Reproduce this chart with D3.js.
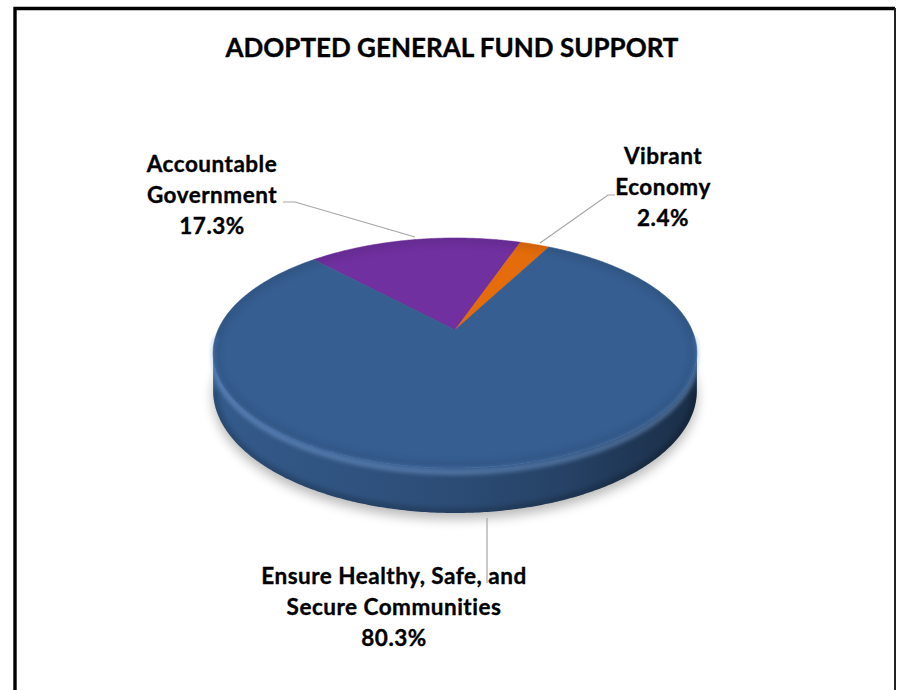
<!DOCTYPE html>
<html>
<head>
<meta charset="utf-8">
<script src="https://cdn.jsdelivr.net/npm/d3@7"></script>
<style>
  html, body { margin: 0; padding: 0; background: #fff; }
  svg { display: block; }
  text { font-family: Lato, "Open Sans", sans-serif; font-weight: bold; fill: #000; stroke: #000; stroke-width: 0.35px; }
</style>
</head>
<body>
<svg id="chart" width="897" height="690"></svg>
<script>
// ---- data ----
const title = "ADOPTED GENERAL FUND SUPPORT";
const categories = ["Accountable Government", "Vibrant Economy", "Ensure Healthy, Safe, and Secure Communities"];
const shares = [17.3, 2.4, 80.3];
const labelNames = [["Accountable", "Government"], ["Vibrant", "Economy"], ["Ensure Healthy, Safe, and", "Secure Communities"]];
const sliceColors = ["#7030A0", "#E46C0A", "#365E91"];

// ---- layout ----
const W = 897, H = 690;
const svg = d3.select("#chart");
const defs = svg.append("defs");

// perspective disc: centre apex, half-width, vertical mapping
const cx = 455, k = 237, persp = -0.2, tiltA = 44.4, apexY = 330, depth = 36;
function proj(theta, r, z) {
  const u = r * Math.sin(theta), v = -r * Math.cos(theta);
  const w = 1 + persp * v;
  return [cx + k * u / w, (tiltA * v + apexY + z * depth) / w];
}
function arcPts(t0, t1, z) {
  const n = Math.max(2, Math.ceil(Math.abs(t1 - t0) / 0.01));
  return d3.range(n + 1).map(i => proj(t0 + (t1 - t0) * i / n, 1, z));
}
const line = d3.line();

const startDeg = -43.1;
const pie = d3.pie().sort(null).value(d => d)
  .startAngle(startDeg * Math.PI / 180)
  .endAngle(startDeg * Math.PI / 180 + 2 * Math.PI);
const arcs = pie(shares);

// silhouette angles of the drum (leftmost / rightmost points)
const thR = Math.acos(persp), thL = 2 * Math.PI - Math.acos(persp);

// ---- frame ----
svg.append("rect").attr("width", W).attr("height", H).attr("fill", "#fff");
svg.append("path")
  .attr("d", "M15,690 L15,8.5 L895,8.5")
  .attr("fill", "none").attr("stroke", "#000").attr("stroke-width", 3.4);
svg.append("path").attr("d", "M895,8 L895,690").attr("stroke", "#222").attr("stroke-width", 2);

// ---- filters ----
const fShadow = defs.append("filter").attr("id", "shadowBlur").attr("x", "-20%").attr("y", "-20%").attr("width", "140%").attr("height", "140%");
fShadow.append("feGaussianBlur").attr("stdDeviation", 6);
const fSoft = defs.append("filter").attr("id", "soft").attr("x", "-10%").attr("y", "-10%").attr("width", "120%").attr("height", "120%");
fSoft.append("feGaussianBlur").attr("stdDeviation", 2);
const fSoft4 = defs.append("filter").attr("id", "soft4").attr("x", "-10%").attr("y", "-10%").attr("width", "120%").attr("height", "120%");
fSoft4.append("feGaussianBlur").attr("stdDeviation", 4);

// ---- shadow under the drum ----
const bottomOutline = line(arcPts(0, 2 * Math.PI, 1)) + "Z";
svg.append("path").attr("d", bottomOutline)
  .attr("transform", "translate(0,6)")
  .attr("fill", "#000").attr("opacity", 0.28)
  .attr("filter", "url(#shadowBlur)");

const pieG = svg.append("g");

// ---- side walls (front half only) ----
const shadeX = d3.scaleLinear().domain([213, 455, 560, 697]).range([0.1, 0.6, 1.0, 2.0]);
arcs.forEach((d, i) => {
  const s = Math.max(d.startAngle, thR), e = Math.min(d.endAngle, thL);
  if (e <= s) return;
  const grad = defs.append("linearGradient").attr("id", "side" + i)
    .attr("gradientUnits", "userSpaceOnUse").attr("x1", 213).attr("x2", 697).attr("y1", 0).attr("y2", 0);
  shadeX.domain().forEach(x => {
    grad.append("stop").attr("offset", (x - 213) / (697 - 213))
      .attr("stop-color", d3.color(sliceColors[i]).darker(shadeX(x)).formatHex());
  });
  const sidePath = line([...arcPts(s, e, 0), ...arcPts(s, e, 1).reverse()]) + "Z";
  const clipId = "sideClip" + i;
  defs.append("clipPath").attr("id", clipId).append("path").attr("d", sidePath);
  pieG.append("path").attr("d", sidePath).attr("fill", `url(#side${i})`);
  const bevel = pieG.append("g").attr("clip-path", `url(#${clipId})`);
  // light bevel band just under the rim
  bevel.append("path").attr("d", line(arcPts(s, e, 0.1)))
    .attr("fill", "none").attr("stroke", "#8fb4e6").attr("stroke-width", 5)
    .attr("opacity", 0.4).attr("filter", "url(#soft)");
  // darker lower edge
  bevel.append("path").attr("d", line(arcPts(s, e, 1)))
    .attr("fill", "none").attr("stroke", "#000").attr("stroke-width", 10)
    .attr("opacity", 0.18).attr("filter", "url(#soft)");
});

// ---- top faces ----
const apex = proj(0, 0, 0);
const topOutline = line(arcPts(0, 2 * Math.PI, 0)) + "Z";
defs.append("clipPath").attr("id", "topClip").append("path").attr("d", topOutline);
pieG.selectAll("path.slice").data(arcs).join("path")
  .attr("class", "slice")
  .attr("d", d => line([apex, ...arcPts(d.startAngle, d.endAngle, 0)]) + "Z")
  .attr("fill", (d, i) => sliceColors[i])
  .attr("stroke", (d, i) => sliceColors[i]).attr("stroke-width", 0.6);

// rounded rim: slight darkening inside the edge, bright line on the front edge
const rimG = pieG.append("g").attr("clip-path", "url(#topClip)");
rimG.append("path").attr("d", topOutline)
  .attr("fill", "none").attr("stroke", "#000").attr("stroke-width", 10)
  .attr("opacity", 0.1).attr("filter", "url(#soft4)");
pieG.append("path").attr("d", line(arcPts(thR - 0.15, thL + 0.15, 0.03)))
  .attr("fill", "none").attr("stroke", "#5d8fd0").attr("stroke-width", 2)
  .attr("opacity", 0.65).attr("filter", "url(#soft)");

// ---- title ----
svg.append("text").attr("x", 452).attr("y", 57)
  .attr("text-anchor", "middle").style("font-size", "26px").text(title);

// ---- labels with leader lines ----
const fmt = v => v.toFixed(1) + "%";
const labelPos = [
  { x: 212, y: 172, leader: [[283, 202], [295, 202], [415, 237]] },
  { x: 663, y: 164, leader: [[615, 195], [608, 195], [540, 243]] },
  { x: 394, y: 584, leader: [[487, 518], [487, 583]] }
];
const lineGap = 31;
labelPos.forEach((p, i) => {
  svg.append("path").attr("d", line(p.leader))
    .attr("fill", "none").attr("stroke", "#a6a6a6").attr("stroke-width", 1.2);
  const t = svg.append("text").attr("text-anchor", "middle")
    .style("font-size", "22.5px").style("letter-spacing", "0.5px");
  [...labelNames[i], fmt(shares[i])].forEach((s, j) => {
    t.append("tspan").attr("x", p.x).attr("y", p.y + j * lineGap).text(s);
  });
});
</script>
</body>
</html>
